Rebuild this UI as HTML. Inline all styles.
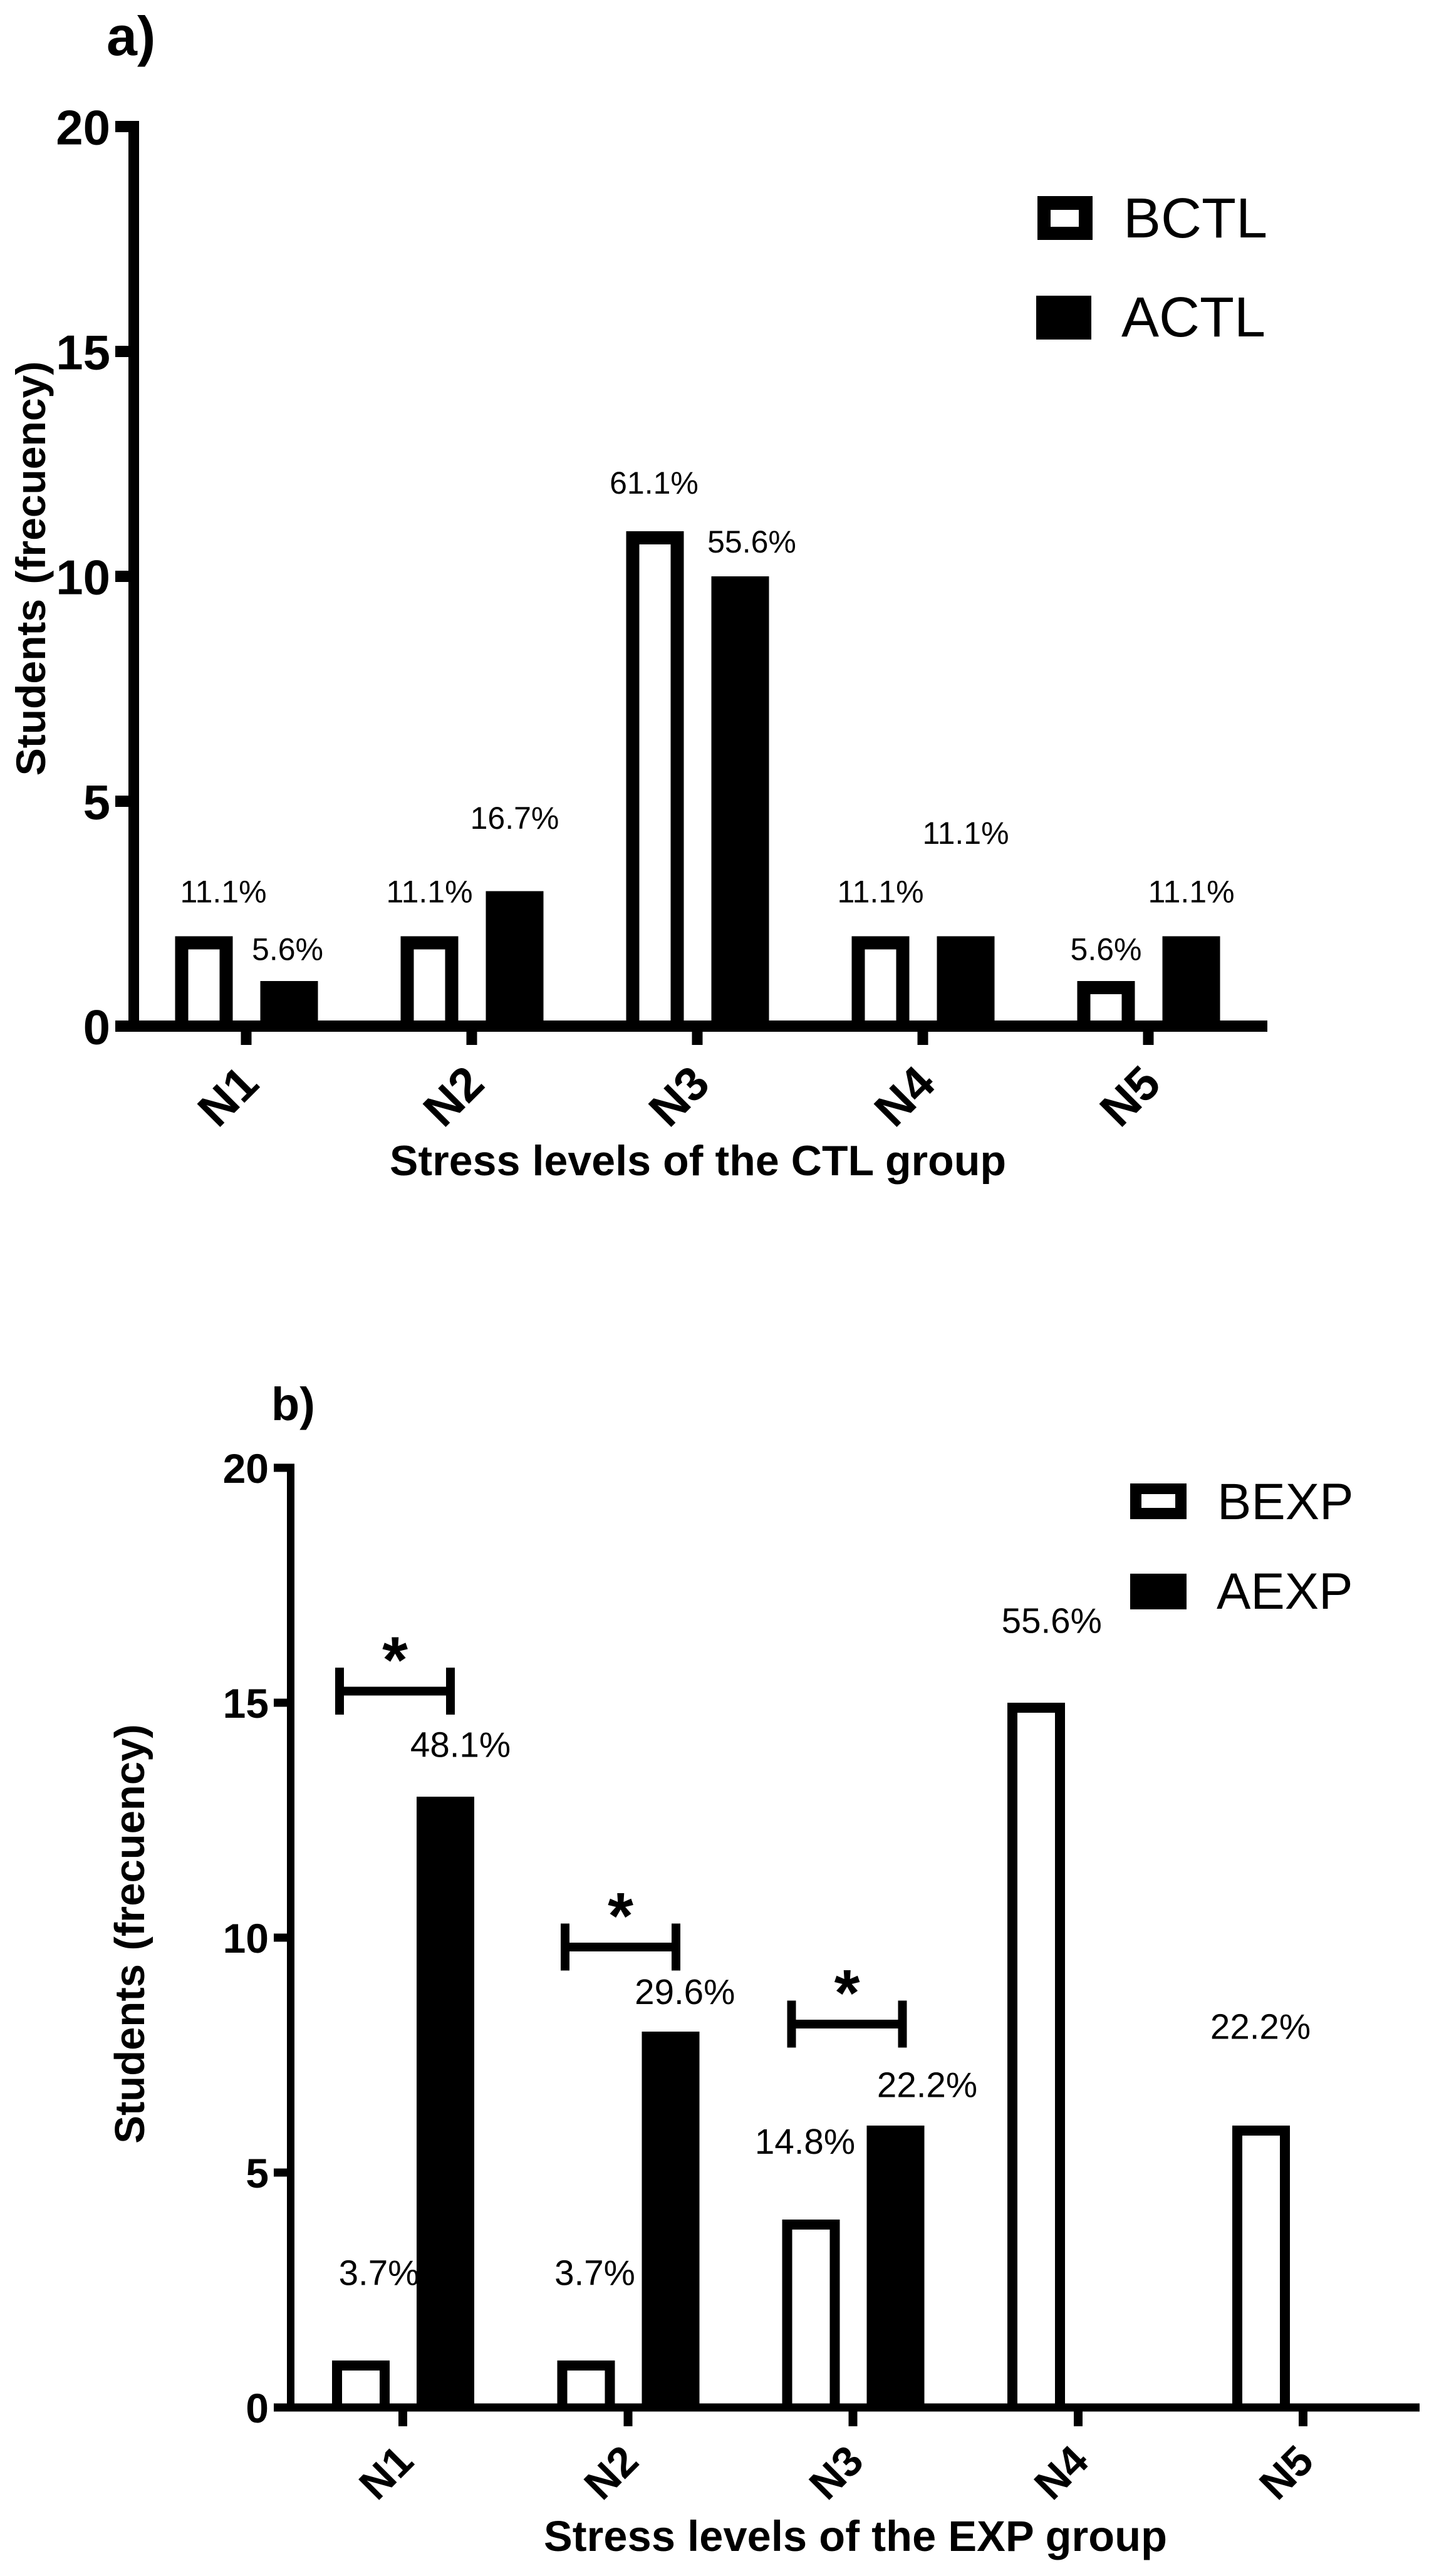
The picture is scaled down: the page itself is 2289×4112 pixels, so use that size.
<!DOCTYPE html>
<html lang="en">
<head>
<meta charset="utf-8">
<title>Stress levels of the CTL and EXP groups</title>
<style>
  html, body { margin: 0; padding: 0; background: #fff; }
  svg { display: block; }
  text { font-family: "Liberation Sans", Arial, sans-serif; fill: #000; }
  .b { font-weight: 700; }
</style>
</head>
<body>
<svg id="figure" xmlns="http://www.w3.org/2000/svg" width="2289" height="4112" viewBox="0 0 2289 4112">
  <rect width="2289" height="4112" fill="#fff"/>

  <g id="chart-a"></g>
  <g id="chart-b"></g>

  <text class="b" x="170" y="88" font-size="88">a)</text>
  <text class="b" font-size="66" text-anchor="middle" word-spacing="5" transform="translate(72 907.5) rotate(-90)">Students (frecuency)</text>
  <text class="b" x="622" y="1876" font-size="68" textLength="984" lengthAdjust="spacing">Stress levels of the CTL group</text>

  <g>
    <g>
      <rect x="1656" y="313" width="88" height="70" fill="#000"/>
      <rect x="1677" y="335" width="45" height="27" fill="#fff"/>
      <text x="1793" y="379" font-size="90">BCTL</text>
    </g>
    <g>
      <rect x="1654" y="472" width="88" height="70" fill="#000"/>
      <text x="1790" y="537" font-size="90">ACTL</text>
    </g>
  </g>

  <text class="b" x="433" y="2267" font-size="74">b)</text>
  <text class="b" font-size="67" text-anchor="middle" word-spacing="3" transform="translate(230 3087) rotate(-90)">Students (frecuency)</text>
  <text class="b" x="868" y="4072" font-size="68.5" textLength="995" lengthAdjust="spacing">Stress levels of the EXP group</text>

  <g>
    <g>
      <rect x="1804" y="2368" width="90" height="57" fill="#000"/>
      <rect x="1822" y="2385" width="54" height="22" fill="#fff"/>
      <text x="1943" y="2425" font-size="81.5">BEXP</text>
    </g>
    <g>
      <rect x="1804" y="2512" width="90" height="57" fill="#000"/>
      <text x="1942" y="2568" font-size="81.5">AEXP</text>
    </g>
  </g>
</svg>

<script>
// ---- Data ----
const levels = ['N1', 'N2', 'N3', 'N4', 'N5'];
const yTickValues = [0, 5, 10, 15, 20];

const bctlValues = [2, 2, 11, 2, 1];
const actlValues = [1, 3, 10, 2, 2];
const bctlPercents = ['11.1%', '11.1%', '61.1%', '11.1%', '5.6%'];
const actlPercents = ['5.6%', '16.7%', '55.6%', '11.1%', '11.1%'];

const bexpValues = [1, 1, 4, 15, 6];
const aexpValues = [13, 8, 6, 0, 0];
const bexpPercents = ['3.7%', '3.7%', '14.8%', '55.6%', '22.2%'];
const aexpPercents = ['48.1%', '29.6%', '22.2%', '', ''];

// Height of each printed percentage above its bar, in axis units
const bctlLabelLift = [0.75, 0.75, 0.84, 0.75, 0.47];
const actlLabelLift = [0.47, 1.39, 0.53, 2.05, 0.75];
const bexpLabelLift = [1.61, 1.61, 1.40, 1.49, 1.85];
const aexpLabelLift = [0.85, 0.59, 0.61, 0, 0];

// Significance brackets: category index and axis value of the bar
const sigLevels = [0, 1, 2];
const sigHeights = [15.25, 9.8, 8.16];
const sigMarks = ['*', '*', '*'];

// ---- Helpers ----
const NS = 'http://www.w3.org/2000/svg';
function make(parent, tag, props, content) {
  const node = document.createElementNS(NS, tag);
  for (const k in props) node.setAttribute(k, props[k]);
  if (content !== undefined) node.textContent = content;
  parent.appendChild(node);
  return node;
}

function drawChart(root, opt) {
  const yScale = v => opt.y0 - v * opt.yUnit;
  const xScale = i => opt.x0 + i * opt.xStep;
  const halfBar = 46;

  // open bars: three-sided outline standing on the axis
  opt.before.forEach((v, i) => {
    const cx = xScale(i) + opt.openOffset;
    const top = yScale(v);
    const s = opt.barStroke / 2;
    const bar = make(root, 'path', {
      d: 'M' + (cx - halfBar + s) + ' ' + opt.y0 +
         'V' + (top + s) +
         'H' + (cx + halfBar - s) +
         'V' + opt.y0,
      fill: '#fff', stroke: '#000', 'stroke-width': opt.barStroke,
      'shape-rendering': 'crispEdges'
    });
    
    
    const lab = make(root, 'text', {
      x: cx + opt.beforeLabelDx[i],
      y: top - opt.beforeLift[i] * opt.yUnit,
      'font-size': opt.labelSize, 'text-anchor': 'middle'
    }, opt.beforeText[i]);
    
    
  });

  // filled bars
  opt.after.forEach((v, i) => {
    if (v <= 0) return;
    const cx = xScale(i) + opt.fillOffset;
    const top = yScale(v);
    const bar = make(root, 'rect', {
      x: cx - halfBar, y: top, width: halfBar * 2, height: opt.y0 - top,
      fill: '#000', 'shape-rendering': 'crispEdges'
    });
    
    
    const lab = make(root, 'text', {
      x: cx + opt.afterLabelDx[i],
      y: top - opt.afterLift[i] * opt.yUnit,
      'font-size': opt.labelSize, 'text-anchor': 'middle'
    }, opt.afterText[i]);
    
    
  });

  // y axis
  const yAxis = make(root, 'rect', {
    x: opt.axisX, y: yScale(20) - opt.hAxis / 2, width: opt.vAxis,
    height: opt.y0 - yScale(20) + opt.hAxis, fill: '#000', 'shape-rendering': 'crispEdges'
  });
  
  

  yTickValues.forEach(t => {
    const mark = make(root, 'rect', {
      x: opt.tickLeft, y: yScale(t) - opt.hAxis / 2, width: opt.axisX - opt.tickLeft,
      height: opt.hAxis, fill: '#000', 'shape-rendering': 'crispEdges'
    });
    
    
    const lab = make(root, 'text', {
      x: opt.yLabelRight, y: yScale(t) + opt.yLabelDrop,
      'font-size': opt.yLabelSize, 'font-weight': 700, 'text-anchor': 'end'
    }, String(t));
    
    
  });

  // x axis
  const xAxis = make(root, 'rect', {
    x: opt.tickLeft, y: opt.y0 - opt.hAxis / 2, width: opt.xRight - opt.tickLeft,
    height: opt.hAxis, fill: '#000', 'shape-rendering': 'crispEdges'
  });
  
  

  levels.forEach((name, i) => {
    const cx = xScale(i);
    const mark = make(root, 'rect', {
      x: cx - opt.xTickW / 2, y: opt.y0, width: opt.xTickW, height: opt.xTickBottom - opt.y0,
      fill: '#000', 'shape-rendering': 'crispEdges'
    });
    
    
    const lab = make(root, 'text', {
      'font-size': opt.xLabelSize, 'font-weight': 700, 'text-anchor': 'middle',
      y: opt.xLabelSize * 0.358,
      transform: 'translate(' + (cx + opt.xLabelDx) + ' ' + opt.xLabelCy + ') rotate(-45)'
    }, name);
    
    
  });

  return { xScale, yScale };
}

// ---- Panel a ----
drawChart(document.getElementById('chart-a'), {
  before: bctlValues, after: actlValues,
  beforeText: bctlPercents, afterText: actlPercents,
  beforeLift: bctlLabelLift, afterLift: actlLabelLift,
  beforeLabelDx: [31, 0, -1.5, 0, 0], afterLabelDx: [-2.5, 0, 18.5, 0, 0],
  beforeName: 'bctl', afterName: 'actl',
  y0: 1638, yUnit: 71.8, x0: 393, xStep: 360,
  openOffset: -67.5, fillOffset: 68.5, barStroke: 21,
  axisX: 205, vAxis: 17, hAxis: 18, tickLeft: 184, xRight: 2023,
  xTickW: 17, xTickBottom: 1668,
  labelSize: 50, yLabelSize: 78, yLabelRight: 176, yLabelDrop: 28.5,
  xLabelSize: 76, xLabelDx: -30, xLabelCy: 1749
});

// ---- Panel b ----
const exp = drawChart(document.getElementById('chart-b'), {
  before: bexpValues, after: aexpValues,
  beforeText: bexpPercents, afterText: aexpPercents,
  beforeLift: bexpLabelLift, afterLift: aexpLabelLift,
  beforeLabelDx: [29, 14.25, -9.5, 25, -1], afterLabelDx: [24, 23, 50.5, 0, 0],
  beforeName: 'bexp', afterName: 'aexp',
  y0: 3843, yUnit: 75, x0: 643, xStep: 359.25,
  openOffset: -67, fillOffset: 68, barStroke: 16,
  axisX: 458, vAxis: 12, hAxis: 13, tickLeft: 437, xRight: 2266,
  xTickW: 14, xTickBottom: 3873,
  labelSize: 56.5, yLabelSize: 66, yLabelRight: 429, yLabelDrop: 24,
  xLabelSize: 68, xLabelDx: -27.5, xLabelCy: 3946
});

// significance brackets
const sigNudge = [0, 0.75, 3];
const chartB = document.getElementById('chart-b');
sigLevels.forEach((lvl, i) => {
  const left = exp.xScale(lvl) - 101 + sigNudge[i];
  const right = exp.xScale(lvl) + 76 + sigNudge[i];
  const y = exp.yScale(sigHeights[i]);
  const g = make(chartB, 'g', {});
  
  
  make(g, 'rect', { x: left, y: y - 7, width: right - left, height: 14, fill: '#000', 'shape-rendering': 'crispEdges' });
  make(g, 'rect', { x: left - 7, y: y - 37.5, width: 14, height: 75, fill: '#000', 'shape-rendering': 'crispEdges' });
  make(g, 'rect', { x: right - 7, y: y - 37.5, width: 14, height: 75, fill: '#000', 'shape-rendering': 'crispEdges' });
  const star = make(g, 'text', {
    x: (left + right) / 2, y: y - 14, 'font-size': 105, 'font-weight': 700, 'text-anchor': 'middle'
  }, sigMarks[i]);
  
  
});
</script>
</body>
</html>
